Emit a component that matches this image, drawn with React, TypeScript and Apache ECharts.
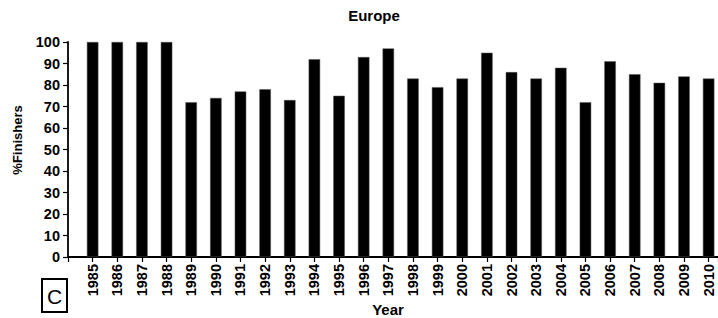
import React, { useEffect, useRef } from "react";
import * as echarts from "echarts";

const years: number[] = [
  1985, 1986, 1987, 1988, 1989, 1990, 1991, 1992, 1993, 1994, 1995, 1996, 1997,
  1998, 1999, 2000, 2001, 2002, 2003, 2004, 2005, 2006, 2007, 2008, 2009, 2010,
];
const finishers: number[] = [
  100, 100, 100, 100, 72, 74, 77, 78, 73, 92, 75, 93, 97,
  83, 79, 83, 95, 86, 83, 88, 72, 91, 85, 81, 84, 83,
];
const yTicks = { min: 0, max: 100, interval: 10 };
const titleText = "Europe";
const xName = "Year";
const yName = "%Finishers";
const panelLabel = "C";

const FONT = "'Liberation Sans', Arial, Helvetica, sans-serif";

export default function App() {
  const ref = useRef<HTMLDivElement>(null);
  useEffect(() => {
    if (!ref.current) return;
    const chart = echarts.init(ref.current, undefined, { renderer: "svg" });
    const firstYear = years[0];
    const lastYear = years[years.length - 1];
    chart.setOption({
      animation: false,
      backgroundColor: "#ffffff",
      grid: { left: 68, right: 0, top: 42, bottom: 61, containLabel: false },
      xAxis: {
        type: "value",
        min: firstYear - 1,
        max: lastYear + 0.38,
        interval: 1,
        splitLine: { show: false },
        axisLine: { show: true, onZero: false, lineStyle: { color: "#000", width: 1.8 } },
        axisTick: { show: true, length: 5, lineStyle: { color: "#000", width: 1.2 } },
        axisLabel: {
          rotate: 90,
          margin: 7,
          color: "#000",
          fontFamily: FONT,
          fontWeight: "bold",
          fontSize: 14.5,
          showMinLabel: true,
          showMaxLabel: true,
          formatter: (v: number) =>
            Number.isInteger(v) && v >= firstYear && v <= lastYear ? String(v) : "",
        },
      },
      yAxis: {
        type: "value",
        min: yTicks.min,
        max: yTicks.max,
        interval: yTicks.interval,
        splitLine: { show: false },
        axisLine: { show: true, lineStyle: { color: "#000", width: 1.8 } },
        axisTick: { show: true, length: 5, lineStyle: { color: "#000", width: 1.2 } },
        axisLabel: {
          margin: 8,
          color: "#000",
          fontFamily: FONT,
          fontWeight: "bold",
          fontSize: 14.5,
        },
      },
      series: [
        {
          type: "bar",
          barWidth: 11.5,
          itemStyle: { color: "#000", borderColor: "#555", borderWidth: 0.5 },
          data: years.map((y, i) => [y, finishers[i]]),
        },
      ],
      graphic: [
        {
          type: "text",
          x: 374,
          y: 15,
          style: {
            text: titleText,
            fontFamily: FONT,
            fontWeight: "bold",
            fontSize: 15,
            fill: "#000",
            textAlign: "center",
            textVerticalAlign: "middle",
          },
        },
        {
          type: "text",
          x: 388,
          y: 309,
          style: {
            text: xName,
            fontFamily: FONT,
            fontWeight: "bold",
            fontSize: 15,
            fill: "#000",
            textAlign: "center",
            textVerticalAlign: "middle",
          },
        },
        {
          type: "text",
          x: 17,
          y: 140,
          rotation: Math.PI / 2,
          style: {
            text: yName,
            fontFamily: FONT,
            fontWeight: "bold",
            fontSize: 13,
            fill: "#000",
            textAlign: "center",
            textVerticalAlign: "middle",
          },
        },
        {
          type: "rect",
          shape: { x: 42, y: 279, width: 25, height: 33 },
          style: { fill: "#fff", stroke: "#000", lineWidth: 2 },
        },
        {
          type: "text",
          x: 54.5,
          y: 296,
          style: {
            text: panelLabel,
            fontFamily: FONT,
            fontSize: 21,
            fill: "#000",
            textAlign: "center",
            textVerticalAlign: "middle",
          },
        },
      ],
    });
    return () => chart.dispose();
  }, []);
  return (
    <div
      ref={ref}
      style={{ position: "absolute", left: 0, top: 0, width: 718, height: 318 }}
    />
  );
}
